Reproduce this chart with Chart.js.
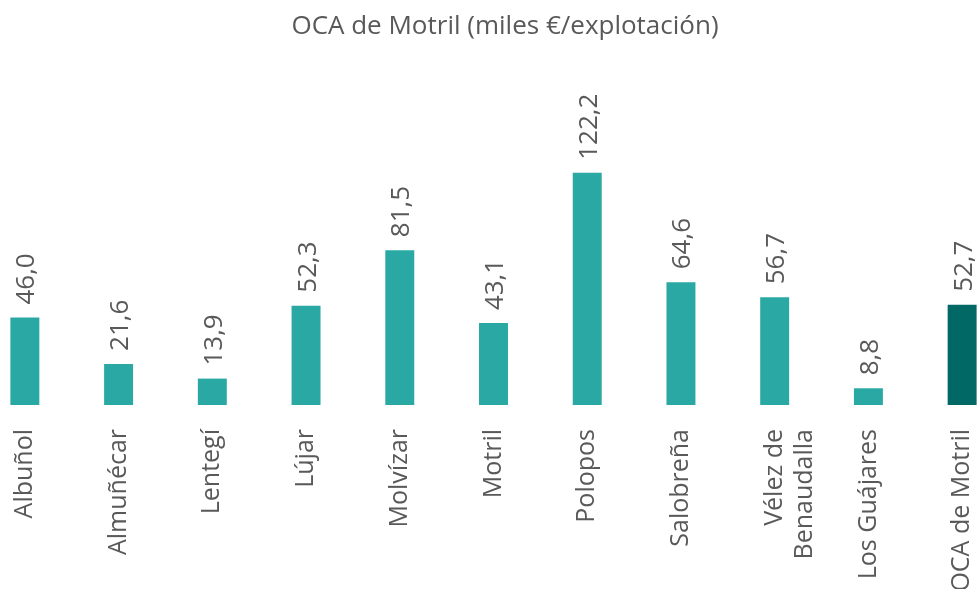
<!DOCTYPE html>
<html>
<head>
<meta charset="utf-8">
<script src="https://cdn.jsdelivr.net/npm/chart.js@4"></script>
<style>
  html, body { margin: 0; padding: 0; background: #ffffff; overflow: hidden; width: 978px; height: 589px; }
  #wrap { position: absolute; left: -22px; top: 0; width: 1054px; height: 589px; }
</style>
</head>
<body>
<div id="wrap"><canvas id="c" width="1054" height="589"></canvas></div>
<script>
const chartTitle = 'OCA de Motril (miles €/explotación)';
const categories = ['Albuñol', 'Almuñécar', 'Lentegí', 'Lújar', 'Molvízar', 'Motril', 'Polopos', 'Salobreña', ['Vélez de', 'Benaudalla'], 'Los Guájares', 'OCA de Motril'];
const values = [46.0, 21.6, 13.9, 52.3, 81.5, 43.1, 122.2, 64.6, 56.7, 8.8, 52.7];

const FONT = "'Open Sans', 'DejaVu Sans', sans-serif";
const TEXT = '#595959';
const BAR = '#2AA8A4';
const BAR_TOTAL = '#016866';

const valueLabels = {
  id: 'valueLabels',
  afterDatasetsDraw(chart) {
    const ctx = chart.ctx;
    const meta = chart.getDatasetMeta(0);
    ctx.save();
    ctx.fillStyle = TEXT;
    ctx.font = '26px ' + FONT;
    ctx.textAlign = 'left';
    ctx.textBaseline = 'alphabetic';
    meta.data.forEach((bar, i) => {
      const txt = values[i].toFixed(1).replace('.', ',');
      ctx.save();
      ctx.translate(bar.x, bar.y - 13);
      ctx.rotate(-Math.PI / 2);
      ctx.fillText(txt, 0, 9.5);
      ctx.restore();
    });
    ctx.restore();
  }
};

new Chart(document.getElementById('c'), {
  type: 'bar',
  data: {
    labels: categories,
    datasets: [{
      data: values,
      backgroundColor: (c) => c.dataIndex === values.length - 1 ? BAR_TOTAL : BAR,
      borderWidth: 0,
      categoryPercentage: 1.0,
      barPercentage: 0.309
    }]
  },
  options: {
    responsive: false,
    devicePixelRatio: 1,
    animation: false,
    layout: { padding: 0 },
    plugins: {
      legend: { display: false },
      tooltip: { enabled: false },
      title: {
        display: true,
        text: chartTitle,
        color: TEXT,
        font: { family: FONT, size: 26, weight: 'normal', lineHeight: 1.2 },
        padding: { top: 11, bottom: 1.8 }
      }
    },
    scales: {
      x: {
        grid: { display: false },
        border: { display: false },
        ticks: {
          color: TEXT,
          font: { family: FONT, size: 25 },
          minRotation: 90,
          maxRotation: 90,
          autoSkip: false,
          padding: 16
        },
        afterFit: (axis) => { axis.height = 184; }
      },
      y: {
        position: 'right',
        min: 0,
        max: 190,
        grid: { display: false },
        border: { display: false },
        ticks: { display: false },
        afterFit: (axis) => { axis.width = 23; }
      }
    }
  },
  plugins: [valueLabels]
});
</script>
</body>
</html>
